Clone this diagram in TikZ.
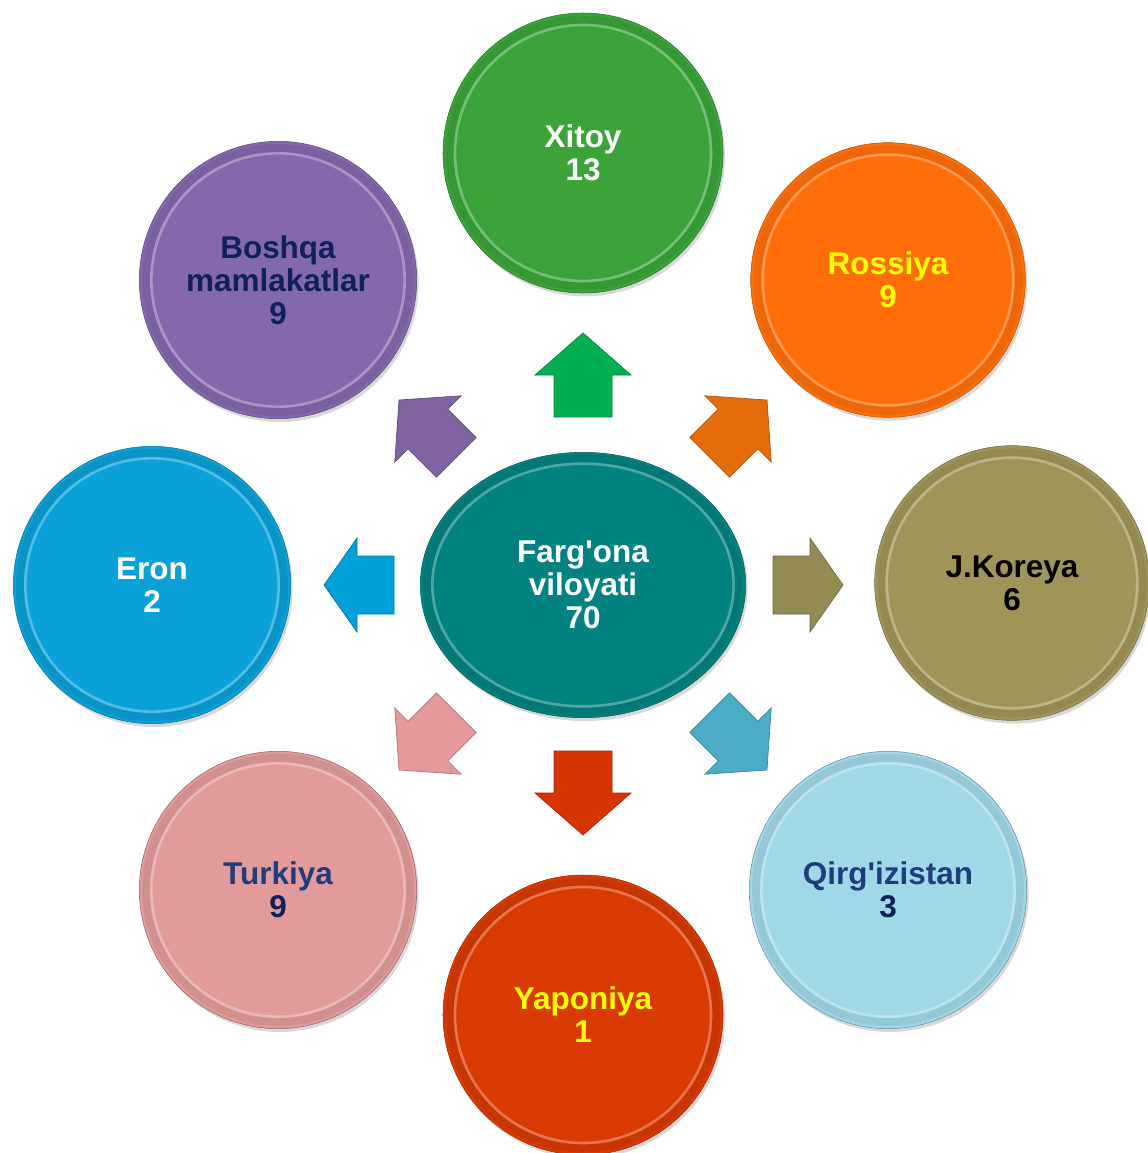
\documentclass[tikz,border=0pt]{standalone}
\usepackage{fontspec}
\setmainfont{Liberation Sans}[Ligatures=TeXOff]
\usetikzlibrary{shapes.geometric,shadows}
\definecolor{cXit}{RGB}{59,163,58}
\definecolor{cRos}{RGB}{255,110,8}
\definecolor{cKor}{RGB}{160,149,88}
\definecolor{cQir}{RGB}{160,216,232}
\definecolor{cYap}{RGB}{217,58,0}
\definecolor{cTur}{RGB}{227,154,154}
\definecolor{cEro}{RGB}{10,160,216}
\definecolor{cBos}{RGB}{132,104,172}
\definecolor{cCen}{RGB}{0,130,128}
\definecolor{aUp}{RGB}{0,176,80}
\definecolor{aNE}{RGB}{228,108,10}
\definecolor{aE}{RGB}{148,138,84}
\definecolor{aSE}{RGB}{75,172,198}
\definecolor{aS}{RGB}{214,52,0}
\definecolor{aSW}{RGB}{230,153,154}
\definecolor{aW}{RGB}{0,160,216}
\definecolor{aNW}{RGB}{128,100,162}
\definecolor{tNavy}{RGB}{31,61,122}
\definecolor{tDeep}{RGB}{16,32,92}
\definecolor{tYel}{RGB}{255,255,0}
\tikzset{
  ball/.style={circle, minimum size=#1, inner sep=0pt, align=center,
    font=\fontsize{23.6}{24.8}\selectfont\bfseries,
    drop shadow={shadow xshift=1.5pt, shadow yshift=-2.5pt, opacity=0.3}},
  band/.style={draw=black, opacity=0.07, line width=6pt},
  ring/.style={draw=white, opacity=0.3, line width=2pt},
  arr/.style={draw=#1!75!black, line width=0.5pt, fill=#1,
    drop shadow={shadow xshift=1pt, shadow yshift=-1.5pt, opacity=0.3}},
  pics/varr/.style={code={\path[pic actions] (-42,-29) -- (0,-29) -- (0,-48) -- (42,0) -- (0,48) -- (0,29) -- (-42,29) -- cycle;}},
  pics/harr/.style={code={\path[pic actions] (-35,-29) -- (2,-29) -- (2,-47) -- (35,0) -- (2,47) -- (2,29) -- (-35,29) -- cycle;}},
  pics/darr/.style={code={\path[pic actions] (-40,-28) -- (0,-28) -- (0,-47) -- (41,0) -- (0,47) -- (0,28) -- (-40,28) -- cycle;}},
}
\begin{document}
\begin{tikzpicture}[x=0.75pt,y=-0.75pt]
\useasboundingbox (0,0) rectangle (1147,1153);
\fill[white] (0,0) rectangle (1147,1153);
% arrows
\pic[arr=aUp, rotate=90] at (583,375) {varr};
\pic[arr=aS, rotate=270] at (583,793) {varr};
\pic[arr=aW, rotate=180] at (359,585) {harr};
\pic[arr=aE] at (808,585) {harr};
\pic[arr=aNE, rotate=45] at (738,429) {darr};
\pic[arr=aNW, rotate=135] at (428,429) {darr};
\pic[arr=aSW, rotate=225] at (428,741) {darr};
\pic[arr=aSE, rotate=315] at (738,741) {darr};
% circles
\node[ball=210pt, fill=cXit, draw=cXit!70!black, text=white] (xit) at (583,153) {Xitoy\\13};
\node[ball=206pt, fill=cRos, draw=cRos!75!black, text=tYel] (ros) at (888,280) {Rossiya\\9};
\node[ball=206pt, fill=cKor, draw=cKor!70!black, text=black] (kor) at (1012,583) {J.Koreya\\6};
\node[ball=208pt, fill=cQir, draw=cQir!65!black, text=tNavy] (qir) at (888,890) {Qirg'izistan\\\textcolor{tDeep}{3}};
\node[ball=210pt, fill=cYap, draw=cYap!70!black, text=tYel] (yap) at (583,1015) {Yaponiya\\1};
\node[ball=208pt, fill=cTur, draw=cTur!65!black, text=tNavy] (tur) at (278,890) {Turkiya\\\textcolor{tDeep}{9}};
\node[ball=208pt, fill=cEro, draw=cEro!70!black, text=white] (ero) at (152,585) {Eron\\2};
\node[ball=208pt, fill=cBos, draw=cBos!70!black, text=tDeep] (bos) at (278,280) {Boshqa\\mamlakatlar\\9};
\node[ellipse, minimum width=244pt, minimum height=199pt, inner sep=0pt, align=center,
  fill=cCen, draw=cCen!70!black, text=white, font=\fontsize{23.6}{24.8}\selectfont\bfseries,
  drop shadow={shadow xshift=1.5pt, shadow yshift=-2.5pt, opacity=0.3}] (cen) at (583,585) {Farg'ona\\viloyati\\70};
% bevel bands and rings
\draw[band] (xit.center) circle (100pt);
\draw[band] (ros.center) circle (98pt);
\draw[band] (kor.center) circle (98pt);
\draw[band] (qir.center) circle (99pt);
\draw[band] (yap.center) circle (100pt);
\draw[band] (tur.center) circle (99pt);
\draw[band] (ero.center) circle (99pt);
\draw[band] (bos.center) circle (99pt);
\draw[band] (cen.center) ellipse [x radius=117pt, y radius=95pt];
\draw[ring] (xit.center) circle (96pt);
\draw[ring] (ros.center) circle (94pt);
\draw[ring] (kor.center) circle (94pt);
\draw[ring] (qir.center) circle (95pt);
\draw[ring] (yap.center) circle (96pt);
\draw[ring] (tur.center) circle (95pt);
\draw[ring] (ero.center) circle (95pt);
\draw[ring] (bos.center) circle (95pt);
\draw[ring] (cen.center) ellipse [x radius=113pt, y radius=91pt];
\end{tikzpicture}
\end{document}
